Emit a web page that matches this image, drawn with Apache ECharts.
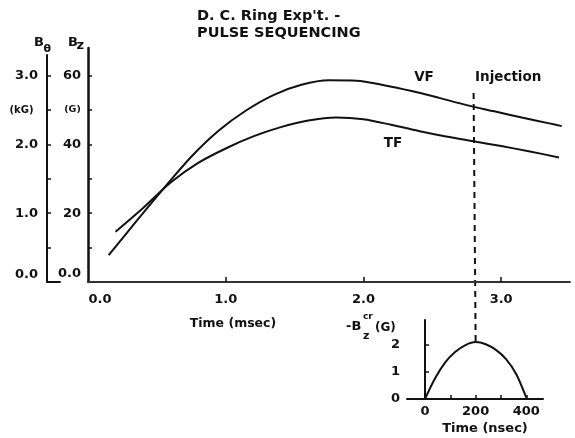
<!DOCTYPE html>
<html><head><meta charset="utf-8">
<script src="https://cdn.jsdelivr.net/npm/echarts@6/dist/echarts.min.js"></script>
<style>html,body{margin:0;padding:0;background:#fff}#c{width:575px;height:438px}</style>
</head><body><div id="c"></div>
<script>
// ---- data ----
const vfTime  = [0.15, 0.35, 0.55, 0.75, 0.95, 1.15, 1.35, 1.55, 1.75, 1.95, 2.15, 2.35, 2.55, 2.75, 2.95, 3.15, 3.35, 3.44];
const vfField = [7.8, 17.6, 27.2, 36.4, 44.0, 49.9, 54.4, 57.3, 58.6, 58.5, 57.2, 55.5, 53.5, 51.4, 49.6, 47.8, 46.1, 45.3];
const tfTime  = [0.20, 0.40, 0.60, 0.80, 1.00, 1.20, 1.40, 1.60, 1.80, 2.00, 2.20, 2.40, 2.60, 2.80, 3.00, 3.20, 3.42];
const tfField = [14.6, 21.5, 28.9, 34.6, 38.8, 42.3, 45.0, 46.9, 47.8, 47.3, 45.7, 43.9, 42.3, 40.9, 39.5, 38.0, 36.2];
const crTime  = [0, 40, 80, 120, 160, 200, 240, 280, 320, 360, 400];
const crField = [0, 0.77, 1.36, 1.75, 2.0, 2.11, 2.03, 1.82, 1.48, 0.93, 0.05];
const timeTicks = [1, 2, 3];
const timeLabels = [0, 1, 2, 3];
const bzTicks = [10, 20, 30, 40, 50, 60];
const bzLabels = [0, 20, 40, 60];
const btTicks = [0.5, 1, 1.5, 2, 2.5, 3];
const btLabels = [0, 1, 2, 3];
const nsTicks = [0, 100, 200, 300, 400];
const nsLabels = [0, 200, 400];
const crTicks = [1, 2];
const crLabels = [0, 1, 2];
const injectionTime = 2.8, injectionTop = 54.9;
const crPeakTime = 200, crPeak = 2.11;

(function () {
const F = 'DejaVu Sans';
const K = '#111';
const zip = (a, b) => a.map((v, i) => [v, b[i]]);
const lbl = (size, extra) => Object.assign({color: K, fontFamily: F, fontWeight: 'bold', fontSize: size}, extra || {});

const chart = echarts.init(document.getElementById('c'), null, {renderer: 'canvas'});
const option = {
  backgroundColor: '#fff',
  animation: false,
  title: {
    text: "D. C. Ring Exp't. -\nPULSE SEQUENCING",
    left: 197, top: 8, padding: 0,
    textStyle: {color: K, fontFamily: F, fontWeight: 'bold', fontSize: 14.5, lineHeight: 17}
  },
  grid: [
    {left: 88, right: 5, top: 48, bottom: 156},
    {left: 47, width: 13, top: 55, bottom: 156},
    {left: 407, right: 32, top: 320, bottom: 39}
  ],
  xAxis: [
    {type: 'value', gridIndex: 0, min: 0, max: 3.5,
     axisLine: {show: true, lineStyle: {color: '#333', width: 1.8}},
     axisTick: {show: true, inside: true, length: 5, customValues: timeTicks, lineStyle: {color: K, width: 1.5}},
     axisLabel: {customValues: timeLabels, margin: 11,
       formatter: v => v === 0 ? '{z|0.0}' : v.toFixed(1),
       rich: {z: lbl(13, {padding: [0, 0, 0, 24]})},
       ...lbl(13)},
     splitLine: {show: false}},
    {type: 'value', gridIndex: 1, min: 0, max: 1,
     axisLine: {show: true, lineStyle: {color: K, width: 1.8}},
     axisTick: {show: false}, axisLabel: {show: false}, splitLine: {show: false}},
    {type: 'value', gridIndex: 2, min: -71, max: 466,
     axisLine: {show: true, lineStyle: {color: K, width: 2}},
     axisTick: {show: true, inside: true, length: 4, customValues: nsTicks, lineStyle: {color: K, width: 1.5}},
     axisLabel: {customValues: nsLabels, margin: 6, ...lbl(13)},
     splitLine: {show: false}}
  ],
  yAxis: [
    {type: 'value', gridIndex: 0, min: 0, max: 68,
     axisLine: {show: true, lineStyle: {color: K, width: 2.5}},
     axisTick: {show: true, inside: true, length: 4, customValues: bzTicks, lineStyle: {color: K, width: 1.5}},
     axisLabel: {customValues: bzLabels, margin: 7,
       formatter: v => v === 0 ? '{z|0.0}' : String(v),
       rich: {z: lbl(13, {padding: [0, 0, 16, 0]})},
       ...lbl(13)},
     splitLine: {show: false}},
    {type: 'value', gridIndex: 1, min: 0, max: 3.3,
     axisLine: {show: true, lineStyle: {color: K, width: 2}},
     axisTick: {show: true, inside: true, length: 4, customValues: btTicks, lineStyle: {color: K, width: 1.5}},
     axisLabel: {customValues: btLabels, margin: 9,
       formatter: v => v === 0 ? '{z|0.0}' : v.toFixed(1),
       rich: {z: lbl(13, {padding: [0, 0, 14, 0]})},
       ...lbl(13)},
     splitLine: {show: false}},
    {type: 'value', gridIndex: 2, min: 0, max: 2.93,
     axisLine: {show: true, lineStyle: {color: K, width: 2}},
     axisTick: {show: true, inside: true, length: 4, customValues: crTicks, lineStyle: {color: K, width: 1.5}},
     axisLabel: {customValues: crLabels, margin: 7, ...lbl(13)},
     splitLine: {show: false}}
  ],
  series: [
    {name: 'VF', type: 'line', xAxisIndex: 0, yAxisIndex: 0, data: zip(vfTime, vfField),
     smooth: 0.3, showSymbol: false, lineStyle: {color: K, width: 2}},
    {name: 'TF', type: 'line', xAxisIndex: 0, yAxisIndex: 0, data: zip(tfTime, tfField),
     smooth: 0.3, showSymbol: false, lineStyle: {color: K, width: 2}},
    {name: 'cr', type: 'line', xAxisIndex: 2, yAxisIndex: 2, data: zip(crTime, crField),
     smooth: 0.3, showSymbol: false, lineStyle: {color: K, width: 2}}
  ]
};
chart.setOption(option);

const pTop = chart.convertToPixel({gridIndex: 0}, [injectionTime, injectionTop]);
const pBot = chart.convertToPixel({gridIndex: 2}, [crPeakTime, crPeak]);
const txt = (x, y, s, size, align) => ({type: 'text', x: x, y: y, style: {text: s, fill: K,
  font: 'bold ' + size + 'px "' + F + '"', textAlign: align || 'left', textVerticalAlign: 'middle'}});
chart.setOption({
  graphic: [
    {type: 'line', shape: {x1: pTop[0], y1: pTop[1], x2: pBot[0], y2: pBot[1]},
     style: {stroke: K, lineWidth: 2, lineDash: [6, 5]}},
    txt(34, 42.5, 'B', 13), txt(43.5, 49, 'θ', 11),
    txt(68, 42.5, 'B', 13), txt(76.5, 46, 'z', 13),
    txt(21.5, 110, '(kG)', 10, 'center'), txt(72.5, 110, '(G)', 9.5, 'center'),
    txt(424, 77, 'VF', 13.5, 'center'), txt(393, 143, 'TF', 13.5, 'center'),
    txt(475, 77, 'Injection', 13.5),
    txt(233, 324, 'Time (msec)', 12.5, 'center'),
    txt(485, 429, 'Time (nsec)', 13, 'center'),
    txt(346, 327, '-B', 13), txt(363, 317, 'cr', 9), txt(363, 336, 'z', 11),
    txt(375, 327.5, '(G)', 12)
  ]
});
})();
</script></body></html>
